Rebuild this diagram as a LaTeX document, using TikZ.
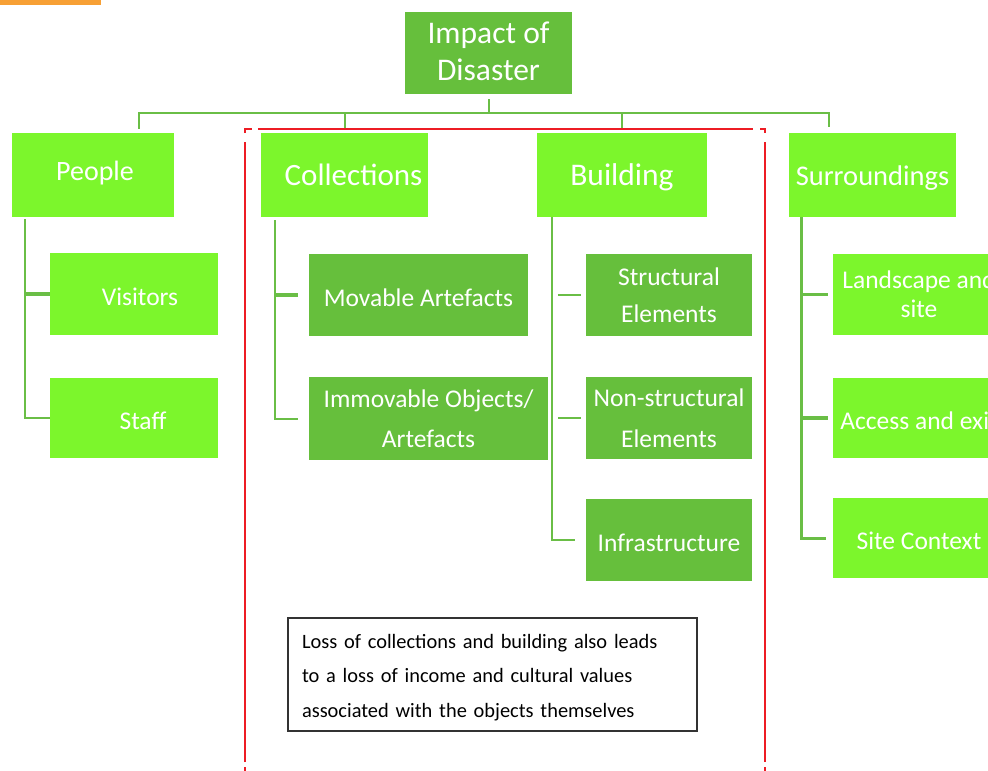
\documentclass[tikz,border=0pt]{standalone}
\usepackage{fontspec}
\setmainfont{Carlito}
\usetikzlibrary{calc}

\definecolor{litegreen}{RGB}{124,246,44}
\definecolor{darkgreen}{RGB}{102,191,60}
\definecolor{linkgreen}{RGB}{106,190,70}
\definecolor{framered}{RGB}{237,28,36}
\definecolor{barorange}{RGB}{247,160,53}

\begin{document}
\begin{tikzpicture}[x=1pt, y=-1pt,
    litebox/.style={fill=litegreen, text=white, inner sep=0pt, align=center},
    darkbox/.style={fill=darkgreen, text=white, inner sep=0pt, align=center},
    lift/.style 2 args={execute at begin node={\rule{0pt}{#1}}, execute at end node={\rule[-#2]{0pt}{#2}}},
    toptext/.style={font=\fontsize{31}{37}\selectfont, lift={28pt}{7pt}},
    subtext/.style={font=\fontsize{25.5}{#1}\selectfont, lift={24pt}{0pt}},
    link/.style={draw=linkgreen, line width=2pt},
    stub/.style={draw=linkgreen, line width=3.5pt},
    redframe/.style={draw=framered, line width=2pt}]

    \useasboundingbox (0,0) rectangle (988,771);
    \clip (0,0) rectangle (988,771);
    \fill[barorange] (0,0) rectangle (101,4.5);

    % top level
    \node[darkbox,minimum width=167,minimum height=82,font=\fontsize{31.5}{37}\selectfont,lift={28pt}{3pt}] (impact) at (488.5,53) {Impact of\\Disaster};
    \node[litebox,minimum width=162,minimum height=84,font=\fontsize{28}{32}\selectfont,lift={22pt}{12pt}] (people) at (93,175) {\hspace{4pt}People};
    \node[litebox,minimum width=167,minimum height=84,toptext] (coll) at (344.5,175) {\hspace{18pt}Collections};
    \node[litebox,minimum width=170,minimum height=84,toptext,font=\fontsize{31.5}{37}\selectfont] (build) at (622,175) {Building};
    \node[litebox,minimum width=167,minimum height=84,toptext,font=\fontsize{28.5}{35}\selectfont] (surr) at (872.5,175) {Surroundings};

    % people
    \node[litebox,minimum width=168,minimum height=82,subtext=30] (visitors) at (134,294) {\hspace{12pt}Visitors};
    \node[litebox,minimum width=168,minimum height=80,subtext=30,lift={22pt}{0pt}] (staff) at (134,418) {\hspace{18pt}Staff};

    % collections
    \node[darkbox,minimum width=219,minimum height=82,subtext=30] (movable) at (418.5,295) {Movable Artefacts};
    \node[darkbox,minimum width=239,minimum height=83,subtext=40] (immovable) at (428.5,418.5) {Immovable Objects/\\Artefacts};

    % building
    \node[darkbox,minimum width=166,minimum height=82,subtext=37] (structural) at (669,295) {Structural\\Elements};
    \node[darkbox,minimum width=166,minimum height=82,subtext=41] (nonstruct) at (669,418) {Non-structural\\Elements};
    \node[darkbox,minimum width=166,minimum height=82,subtext=30] (infra) at (669,540) {Infrastructure};

    % surroundings
    \node[litebox,minimum width=172,minimum height=81,subtext=29] (landscape) at (919,294.5) {Landscape and\\site};
    \node[litebox,minimum width=172,minimum height=80,subtext=30] (access) at (919,418) {Access and exit};
    \node[litebox,minimum width=172,minimum height=80,subtext=30] (sitectx) at (919,538) {Site Context};

    % note
    \node[draw=black!80,line width=2pt,inner xsep=14pt,text width=381,minimum height=113,align=left,font=\fontsize{20.4}{34.5}\selectfont,lift={21pt}{5pt}] (note) at (492.5,674.5)
        {Loss of collections and building also leads\\to a loss of income and cultural values\\associated with the objects themselves};

    % red frame
    \draw[redframe] (245,762) -- (245,142);
    \draw[redframe] (245,133) -- (245,129) -- (252,129);
    \draw[redframe] (258,129) -- (753,129);
    \draw[redframe] (760,129) -- (765,129) -- (765,133);
    \draw[redframe] (765,142) -- (765,762);
    \draw[redframe] (245,767) -- (245,771);
    \draw[redframe] (765,767) -- (765,771);

    % links to top level
    \coordinate (bar) at ($(impact.south)+(0,19)$);
    \draw[link] ($(impact.south)+(0,5)$) -- (bar);
    \draw[link] ($(people.north)+(46,-4)$) |- (bar) -| ($(surr.north)+(-43.5,-6)$);
    \draw[link] (bar -| coll.north) -- ($(coll.north)+(0,-5)$);
    \draw[link] (bar -| build.north) -- ($(build.north)+(0,-5)$);

    % people links
    \coordinate (ptrunk) at ($(people.south west)+(13,2)$);
    \draw[link] (ptrunk) |- (staff.west);
    \draw[stub] (ptrunk |- visitors.west) -- (visitors.west);

    % collections links
    \coordinate (ctrunk) at ($(coll.south west)+(14,3)$);
    \draw[link,shorten >=11pt] (ctrunk) |- (immovable.west);
    \draw[stub,shorten >=11pt] (ctrunk |- movable.west) -- (movable.west);

    % building links
    \coordinate (btrunk) at ($(build.south west)+(15,0)$);
    \draw[link,shorten >=11pt] (btrunk) |- (infra.west);
    \draw[link,line width=2.5pt,shorten >=5pt] ($(btrunk |- structural.west)+(6,0)$) -- (structural.west);
    \draw[link,line width=2.5pt,shorten >=5pt] ($(btrunk |- nonstruct.west)+(6,0)$) -- (nonstruct.west);

    % surroundings links
    \coordinate (strunk) at ($(surr.south west)+(13,0)$);
    \draw[link,line width=3pt,shorten >=7pt] (strunk) |- (sitectx.west);
    \draw[stub,shorten >=5pt] (strunk |- landscape.west) -- (landscape.west);
    \draw[stub,shorten >=5pt] (strunk |- access.west) -- (access.west);

\end{tikzpicture}
\end{document}
